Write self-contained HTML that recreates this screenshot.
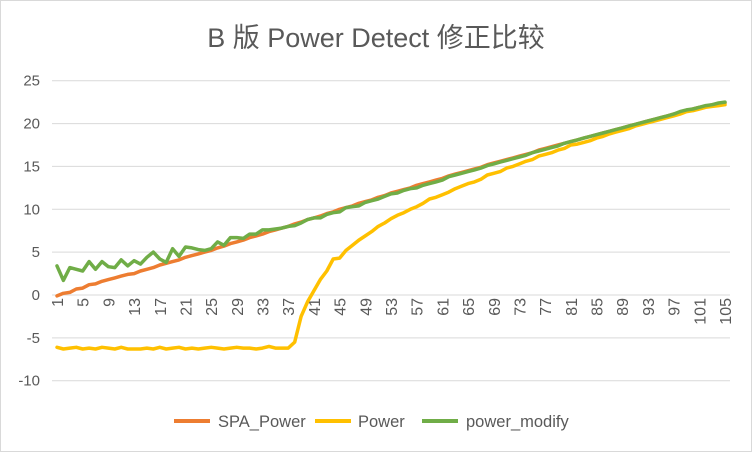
<!DOCTYPE html>
<html><head><meta charset="utf-8"><style>
body{margin:0;background:#fff}
svg{display:block;font-family:"Liberation Sans","Noto Sans CJK SC",sans-serif}
</style></head><body>
<svg id="c" width="752" height="452">
<rect x="0.5" y="0.5" width="751" height="451" fill="#fff" stroke="#d9d9d9"/>
<text x="376" y="47" text-anchor="middle" font-size="27" fill="#595959">B 版 Power Detect 修正比较</text>
<g id="grid"></g><g id="xl"></g><g id="yl"></g><g id="series"></g>
<g font-size="16.5" fill="#595959">
<g><line x1="174" y1="421" x2="210" y2="421" stroke="#ed7d31" stroke-width="4"/><text x="218" y="427">SPA_Power</text></g>
<g><line x1="315" y1="421" x2="351" y2="421" stroke="#ffc000" stroke-width="4"/><text x="358" y="427">Power</text></g>
<g><line x1="422" y1="421" x2="458" y2="421" stroke="#70ad47" stroke-width="4"/><text x="466" y="427">power_modify</text></g>
</g>
</svg>
<script>
const spa=[-0.1,0.2,0.3,0.7,0.8,1.2,1.3,1.6,1.8,2.0,2.2,2.4,2.5,2.8,3.0,3.2,3.5,3.7,3.9,4.1,4.4,4.6,4.8,5.0,5.2,5.5,5.7,6.0,6.2,6.4,6.7,6.9,7.1,7.4,7.6,7.8,8.0,8.3,8.5,8.8,9.0,9.2,9.5,9.7,10.0,10.2,10.4,10.7,10.9,11.1,11.4,11.6,11.9,12.1,12.3,12.5,12.8,13.0,13.2,13.4,13.6,13.9,14.1,14.3,14.5,14.7,14.9,15.2,15.4,15.6,15.8,16.0,16.2,16.4,16.6,16.9,17.1,17.3,17.5,17.7,17.9,18.1,18.3,18.5,18.7,18.9,19.1,19.3,19.5,19.7,19.9,20.1,20.3,20.5,20.7,20.9,21.1,21.3,21.5,21.7,21.9,22.0,22.2,22.3,22.4];
const power=[-6.1,-6.3,-6.2,-6.1,-6.3,-6.2,-6.3,-6.1,-6.2,-6.3,-6.1,-6.3,-6.3,-6.3,-6.2,-6.3,-6.1,-6.3,-6.2,-6.1,-6.3,-6.2,-6.3,-6.2,-6.1,-6.2,-6.3,-6.2,-6.1,-6.2,-6.2,-6.3,-6.2,-6.0,-6.2,-6.2,-6.2,-5.5,-2.5,-0.8,0.5,1.8,2.8,4.2,4.3,5.2,5.8,6.4,6.9,7.4,8.0,8.4,8.9,9.3,9.6,10.0,10.3,10.7,11.2,11.4,11.7,12.0,12.4,12.7,13.0,13.2,13.5,14.0,14.2,14.4,14.8,15.0,15.3,15.6,15.8,16.2,16.4,16.6,16.9,17.1,17.5,17.6,17.8,18.0,18.3,18.5,18.8,19.0,19.2,19.4,19.7,19.9,20.1,20.3,20.5,20.7,20.9,21.1,21.4,21.5,21.7,21.9,22.0,22.1,22.2];
const modify=[3.4,1.7,3.2,3.0,2.8,3.9,3.0,3.9,3.3,3.2,4.1,3.4,4.0,3.6,4.4,5.0,4.2,3.8,5.4,4.5,5.6,5.5,5.3,5.2,5.4,6.2,5.8,6.7,6.7,6.6,7.1,7.1,7.6,7.6,7.7,7.8,8.0,8.1,8.4,8.8,9.0,9.0,9.4,9.6,9.7,10.2,10.3,10.4,10.8,11.0,11.2,11.5,11.8,11.9,12.2,12.4,12.5,12.8,13.0,13.2,13.4,13.8,14.0,14.2,14.4,14.6,14.8,15.1,15.3,15.5,15.7,15.9,16.1,16.3,16.6,16.8,17.0,17.2,17.4,17.7,17.9,18.1,18.3,18.5,18.7,18.9,19.1,19.3,19.5,19.7,19.9,20.1,20.3,20.5,20.7,20.9,21.1,21.4,21.6,21.7,21.9,22.1,22.2,22.4,22.5];
const yTicks=[-10,-5,0,5,10,15,20,25];
const NS="http://www.w3.org/2000/svg";
const n=spa.length;
const xS=i=>57+i*(725-57)/(n-1);
const yS=v=>295-v*(300/35);
function mk(tag,attrs,parent){const e=document.createElementNS(NS,tag);for(const k in attrs)e.setAttribute(k,attrs[k]);parent.appendChild(e);return e;}
const grid=document.getElementById('grid'),yl=document.getElementById('yl'),xl=document.getElementById('xl'),ser=document.getElementById('series');
yTicks.forEach(t=>{
  const l=mk('line',{x1:52,x2:730,y1:yS(t),y2:yS(t),stroke:'#d9d9d9','stroke-width':1},grid);
  
  
  const tx=mk('text',{x:40,y:yS(t)+5,'text-anchor':'end','font-size':15,fill:'#595959'},yl);
  tx.textContent=t;
  
  
});
for(let i=0;i<n;i+=4){
  const x=xS(i),y=298;
  const tx=mk('text',{x:x,y:y,transform:`rotate(-90 ${x} ${y})`,'text-anchor':'end','font-size':16,fill:'#595959',dy:6},xl);
  tx.textContent=i+1;
  
  
}
[[spa,'#ed7d31','spa-power-line'],[power,'#ffc000','power-line'],[modify,'#70ad47','power-modify-line']].forEach(([d,c,nm])=>{
  const p=mk('polyline',{points:d.map((v,i)=>xS(i).toFixed(1)+','+yS(v).toFixed(1)).join(' '),fill:'none',stroke:c,'stroke-width':3.5,'stroke-linejoin':'round','stroke-linecap':'round'},ser);
  
  
});
</script>
</body></html>
